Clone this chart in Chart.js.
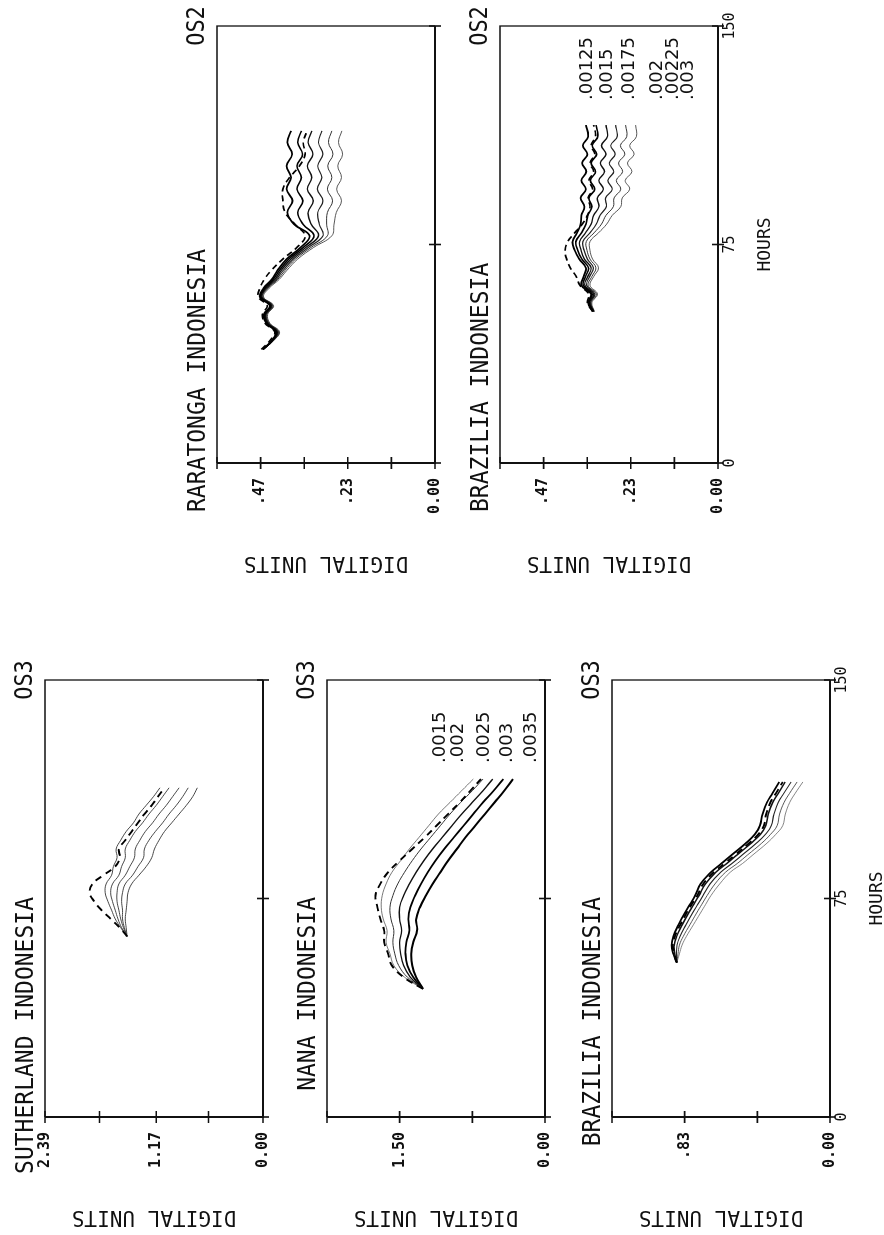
<!DOCTYPE html>
<html>
<head>
<meta charset="utf-8">
<title>Digital units vs hours</title>
<script src="https://cdn.jsdelivr.net/npm/chart.js@4.4.1/dist/chart.umd.min.js"></script>
<style>
  html, body { margin: 0; padding: 0; background: #fff; }
  body { width: 884px; height: 1235px; overflow: hidden; position: relative; }
  /* the whole sheet is plotted landscape and turned a quarter turn */
  #sheet { position: absolute; left: 0; top: 0; width: 1235px; height: 884px;
           transform-origin: 0 0; transform: translateY(1235px) rotate(-90deg); }
  #sheet canvas { position: absolute; }
</style>
</head>
<body>
<div id="sheet"></div>
<script>
// === HOURS AXIS ===
const hourTicks = [0, 75, 150];
const hourLabels = ['0', '75', '150'];

// === VALUE AXIS TICKS ===
const sutTicks = [0, 0.5975, 1.17, 1.7925, 2.39];
const sutTickLabels = ['0.00', '', '1.17', '', '2.39'];
const nanaTicks = [0, 0.75, 1.5, 2.25];
const nanaTickLabels = ['0.00', '', '1.50', ''];
const braz3Ticks = [0, 0.415, 0.83, 1.245];
const braz3TickLabels = ['0.00', '', '.83', ''];
const os2Ticks = [0, 0.1175, 0.235, 0.3525, 0.47, 0.5875];
const os2TickLabels = ['0.00', '', '.23', '', '.47', ''];

// === LEGEND TEXT ===
const os3Legend = ['.0015', '.002', '.0025', '.003', '.0035'];
const os2Legend = ['.00125', '.0015', '.00175', '.002', '.00225', '.003'];

// === SUTHERLAND (OS3) ===
const sutHours = [62, 65, 68, 71, 74, 77, 80, 83, 86, 89, 92, 95, 98, 101, 104, 107, 110, 113];
const sutObs   = [1.49, 1.57, 1.67, 1.77, 1.85, 1.90, 1.87, 1.75, 1.62, 1.57, 1.58, 1.51, 1.44, 1.37, 1.30, 1.22, 1.15, 1.08];
const sut0015  = [1.49, 1.56, 1.62, 1.66, 1.70, 1.73, 1.72, 1.66, 1.64, 1.60, 1.61, 1.56, 1.50, 1.42, 1.36, 1.28, 1.20, 1.13];
const sut002   = [1.49, 1.55, 1.59, 1.62, 1.65, 1.67, 1.65, 1.58, 1.55, 1.51, 1.51, 1.46, 1.40, 1.32, 1.25, 1.17, 1.10, 1.03];
const sut0025  = [1.49, 1.53, 1.56, 1.58, 1.60, 1.60, 1.58, 1.51, 1.46, 1.41, 1.40, 1.35, 1.29, 1.21, 1.14, 1.06, 0.99, 0.92];
const sut003   = [1.49, 1.52, 1.54, 1.54, 1.55, 1.54, 1.51, 1.43, 1.37, 1.31, 1.30, 1.25, 1.18, 1.10, 1.03, 0.95, 0.88, 0.82];
const sut0035  = [1.49, 1.50, 1.51, 1.50, 1.49, 1.48, 1.44, 1.36, 1.28, 1.22, 1.19, 1.14, 1.08, 1.00, 0.92, 0.84, 0.77, 0.72];

// === NANA (OS3) ===
const nanaHours = [44, 48, 52, 56, 60, 64, 68, 72, 76, 80, 84, 88, 92, 96, 100, 104, 108, 112, 116];
const nanaObs   = [1.26, 1.46, 1.58, 1.62, 1.66, 1.66, 1.70, 1.73, 1.75, 1.70, 1.62, 1.50, 1.37, 1.24, 1.12, 1.00, 0.88, 0.77, 0.66];
const nana0015  = [1.26, 1.45, 1.56, 1.60, 1.64, 1.63, 1.67, 1.69, 1.68, 1.64, 1.58, 1.49, 1.40, 1.30, 1.20, 1.10, 0.98, 0.86, 0.74];
const nana002   = [1.26, 1.42, 1.51, 1.55, 1.57, 1.56, 1.59, 1.60, 1.57, 1.52, 1.45, 1.37, 1.28, 1.18, 1.08, 0.98, 0.87, 0.75, 0.64];
const nana0025  = [1.26, 1.39, 1.46, 1.49, 1.50, 1.48, 1.50, 1.50, 1.46, 1.40, 1.33, 1.25, 1.16, 1.06, 0.96, 0.86, 0.75, 0.64, 0.54];
const nana003   = [1.26, 1.36, 1.42, 1.44, 1.43, 1.40, 1.41, 1.39, 1.34, 1.28, 1.21, 1.13, 1.04, 0.94, 0.84, 0.74, 0.64, 0.53, 0.43];
const nana0035  = [1.26, 1.33, 1.37, 1.38, 1.36, 1.32, 1.33, 1.29, 1.23, 1.16, 1.08, 1.00, 0.91, 0.82, 0.72, 0.62, 0.52, 0.42, 0.33];

// === BRAZILIA (OS3) ===
const braz3Hours = [53, 56, 59, 62, 66, 70, 73, 76, 80, 84, 87, 90, 94, 97, 100, 104, 108, 111, 115];
const braz3Obs   = [0.875, 0.890, 0.898, 0.886, 0.855, 0.820, 0.790, 0.758, 0.724, 0.664, 0.602, 0.542, 0.462, 0.410, 0.378, 0.364, 0.340, 0.310, 0.270];
const braz30015  = [0.875, 0.895, 0.905, 0.895, 0.865, 0.830, 0.800, 0.770, 0.740, 0.680, 0.620, 0.560, 0.480, 0.430, 0.400, 0.385, 0.360, 0.330, 0.290];
const braz3002   = [0.875, 0.886, 0.890, 0.876, 0.844, 0.808, 0.778, 0.748, 0.712, 0.652, 0.590, 0.530, 0.450, 0.398, 0.367, 0.353, 0.327, 0.296, 0.256];
const braz30025  = [0.875, 0.877, 0.874, 0.857, 0.822, 0.785, 0.755, 0.725, 0.685, 0.625, 0.560, 0.500, 0.420, 0.369, 0.335, 0.320, 0.295, 0.265, 0.222];
const braz3003   = [0.875, 0.868, 0.860, 0.838, 0.800, 0.762, 0.732, 0.702, 0.657, 0.597, 0.530, 0.470, 0.390, 0.340, 0.302, 0.288, 0.262, 0.232, 0.188];
const braz30035  = [0.875, 0.860, 0.845, 0.820, 0.780, 0.740, 0.710, 0.680, 0.630, 0.570, 0.500, 0.440, 0.360, 0.310, 0.270, 0.255, 0.230, 0.200, 0.155];

// === RARATONGA (OS2) ===
const raraHours  = [39, 42, 45, 48, 51, 54, 57, 60, 63, 66, 70, 74, 78, 82, 86, 90, 94, 98, 102, 106, 110, 114];
const raraObs    = [0.468, 0.445, 0.432, 0.458, 0.465, 0.452, 0.476, 0.472, 0.460, 0.442, 0.410, 0.372, 0.350, 0.378, 0.404, 0.410, 0.410, 0.392, 0.365, 0.350, 0.355, 0.345];
const rara00125  = [0.464, 0.440, 0.429, 0.455, 0.461, 0.445, 0.472, 0.462, 0.440, 0.425, 0.400, 0.362, 0.338, 0.380, 0.398, 0.384, 0.400, 0.388, 0.400, 0.385, 0.398, 0.388];
const rara0015   = [0.464, 0.439, 0.427, 0.453, 0.459, 0.443, 0.470, 0.459, 0.436, 0.420, 0.394, 0.355, 0.326, 0.356, 0.370, 0.356, 0.372, 0.360, 0.372, 0.357, 0.370, 0.360];
const rara00175  = [0.463, 0.438, 0.425, 0.451, 0.457, 0.441, 0.468, 0.456, 0.432, 0.415, 0.388, 0.348, 0.314, 0.334, 0.342, 0.328, 0.344, 0.332, 0.344, 0.329, 0.342, 0.332];
const rara002    = [0.463, 0.437, 0.423, 0.449, 0.455, 0.439, 0.466, 0.453, 0.428, 0.410, 0.382, 0.341, 0.302, 0.312, 0.316, 0.302, 0.317, 0.305, 0.316, 0.302, 0.314, 0.305];
const rara00225  = [0.462, 0.436, 0.421, 0.447, 0.453, 0.437, 0.464, 0.450, 0.424, 0.405, 0.376, 0.334, 0.290, 0.292, 0.290, 0.276, 0.290, 0.278, 0.289, 0.275, 0.287, 0.278];
const rara003    = [0.462, 0.435, 0.419, 0.445, 0.451, 0.435, 0.462, 0.447, 0.420, 0.400, 0.370, 0.327, 0.278, 0.272, 0.266, 0.252, 0.265, 0.252, 0.262, 0.249, 0.260, 0.251];

// === BRAZILIA (OS2) ===
const braz2Hours = [52, 55, 58, 61, 64, 67, 70, 73, 76, 79, 82, 85, 88, 91, 94, 97, 100, 103, 106, 109, 112, 116];
const braz2Obs   = [0.338, 0.352, 0.348, 0.372, 0.382, 0.398, 0.408, 0.412, 0.405, 0.386, 0.366, 0.352, 0.345, 0.350, 0.338, 0.348, 0.335, 0.345, 0.332, 0.342, 0.330, 0.335];
const braz200125 = [0.337, 0.350, 0.342, 0.368, 0.362, 0.356, 0.374, 0.386, 0.392, 0.380, 0.370, 0.368, 0.360, 0.370, 0.356, 0.368, 0.355, 0.366, 0.352, 0.364, 0.350, 0.356];
const braz20015  = [0.336, 0.348, 0.339, 0.363, 0.357, 0.349, 0.367, 0.378, 0.383, 0.368, 0.356, 0.351, 0.340, 0.348, 0.332, 0.344, 0.330, 0.342, 0.327, 0.339, 0.324, 0.329];
const braz200175 = [0.335, 0.346, 0.335, 0.359, 0.351, 0.342, 0.360, 0.369, 0.373, 0.357, 0.342, 0.335, 0.321, 0.325, 0.309, 0.321, 0.306, 0.317, 0.302, 0.314, 0.298, 0.302];
const braz2002   = [0.335, 0.344, 0.332, 0.354, 0.346, 0.336, 0.352, 0.361, 0.364, 0.345, 0.328, 0.318, 0.301, 0.303, 0.285, 0.297, 0.281, 0.293, 0.277, 0.289, 0.272, 0.276];
const braz200225 = [0.334, 0.342, 0.328, 0.350, 0.340, 0.329, 0.345, 0.353, 0.355, 0.334, 0.314, 0.302, 0.282, 0.280, 0.262, 0.274, 0.257, 0.268, 0.251, 0.263, 0.246, 0.249];
const braz2003   = [0.333, 0.340, 0.325, 0.345, 0.335, 0.322, 0.338, 0.345, 0.345, 0.322, 0.300, 0.285, 0.262, 0.258, 0.238, 0.250, 0.232, 0.244, 0.226, 0.238, 0.220, 0.222];

// === STYLES ===
const INK = '#111';
const MONO = 'DejaVu Sans Mono';
const OBS = { width: 1.9, dash: [7, 5], color: '#000' };
const STYLE_THIN = [OBS,
    { width: 0.9, color: '#333' }, { width: 0.9, color: '#333' }, { width: 0.9, color: '#333' },
    { width: 0.9, color: '#333' }, { width: 0.9, color: '#333' }];
const STYLE_NANA = [OBS,
    { width: 0.8, color: '#555' }, { width: 1.0, color: '#333' }, { width: 1.4, color: '#111' },
    { width: 1.8, color: '#000' }, { width: 2.0, color: '#000' }];
const STYLE_BRAZ3 = [OBS,
    { width: 1.8, color: '#000' }, { width: 1.5, color: '#111' }, { width: 1.1, color: '#222' },
    { width: 0.9, color: '#444' }, { width: 0.8, color: '#666' }];
const STYLE_OS2 = [{ width: 1.7, dash: [6, 4], color: '#000' },
    { width: 1.8, color: '#000' }, { width: 1.6, color: '#000' }, { width: 1.4, color: '#111' },
    { width: 1.2, color: '#222' }, { width: 1.0, color: '#333' }, { width: 0.9, color: '#444' }];

// chart area inside every canvas: 437 x 218, left 116, top 50
const CANVAS_W = 583, CANVAS_H = 328;

const panels = [
    { title: 'SUTHERLAND INDONESIA', tag: 'OS3', align: 'right', left: 2, top: -5,
      yMax: 2.39, yTicks: sutTicks, yLabels: sutTickLabels, hours: sutHours,
      series: [sutObs, sut0015, sut002, sut0025, sut003, sut0035], styles: STYLE_THIN, showHours: false },
    { title: 'NANA INDONESIA', tag: 'OS3', align: 'right', left: 2, top: 277,
      yMax: 2.25, yTicks: nanaTicks, yLabels: nanaTickLabels, hours: nanaHours,
      series: [nanaObs, nana0015, nana002, nana0025, nana003, nana0035], styles: STYLE_NANA, showHours: false,
      legend: { items: os3Legend, x: 354, ys: [113, 131, 157, 180, 204] } },
    { title: 'BRAZILIA INDONESIA', tag: 'OS3', align: 'right', left: 2, top: 562,
      yMax: 1.245, yTicks: braz3Ticks, yLabels: braz3TickLabels, hours: braz3Hours,
      series: [braz3Obs, braz30015, braz3002, braz30025, braz3003, braz30035], styles: STYLE_BRAZ3, showHours: true },
    { title: 'RARATONGA INDONESIA', tag: 'OS2', align: 'left', left: 656, top: 167,
      yMax: 0.5875, yTicks: os2Ticks, yLabels: os2TickLabels, hours: raraHours,
      series: [raraObs, rara00125, rara0015, rara00175, rara002, rara00225, rara003], styles: STYLE_OS2, showHours: false },
    { title: 'BRAZILIA INDONESIA', tag: 'OS2', align: 'left', left: 656, top: 450,
      yMax: 0.5875, yTicks: os2Ticks, yLabels: os2TickLabels, hours: braz2Hours,
      series: [braz2Obs, braz200125, braz20015, braz200175, braz2002, braz200225, braz2003], styles: STYLE_OS2, showHours: true,
      legend: { items: os2Legend, x: 363, ys: [87, 107, 129, 157, 173, 188] } }
];

// box frame with tick marks crossing the axes
const frameTicks = {
    id: 'frameTicks',
    afterDraw(chart) {
        const { ctx, chartArea: a, scales: { x, y } } = chart;
        ctx.save();
        ctx.strokeStyle = INK;
        ctx.lineWidth = 2;
        ctx.beginPath();
        ctx.moveTo(a.left, a.top);
        ctx.lineTo(a.left, a.bottom);
        ctx.lineTo(a.right, a.bottom);
        ctx.stroke();
        ctx.lineWidth = 1.3;
        ctx.beginPath();
        ctx.moveTo(a.left, a.top);
        ctx.lineTo(a.right, a.top);
        ctx.lineTo(a.right, a.bottom);
        ctx.stroke();
        ctx.lineWidth = 1.6;
        ctx.beginPath();
        y.ticks.forEach(t => {
            const p = y.getPixelForValue(t.value);
            ctx.moveTo(a.left - 6, p);
            ctx.lineTo(a.left + 6, p);
        });
        x.ticks.forEach(t => {
            const p = x.getPixelForValue(t.value);
            ctx.moveTo(p, a.bottom - 6);
            ctx.lineTo(p, a.bottom + 6);
        });
        ctx.stroke();
        ctx.restore();
    }
};

// panel title, OS tag and the column of coefficient labels
const panelDecor = {
    id: 'panelDecor',
    afterDraw(chart, args, opts) {
        const { ctx, chartArea: a } = chart;
        ctx.save();
        ctx.fillStyle = INK;
        const tall = (text, x, y, align) => {
            ctx.save();
            ctx.translate(x, y);
            ctx.scale(1, 1.1);
            ctx.textAlign = align;
            ctx.textBaseline = 'alphabetic';
            ctx.fillText(text, 0, 0);
            ctx.restore();
        };
        ctx.font = `23px "${MONO}"`;
        if (opts.align === 'right') {
            tall(opts.title, a.left + 220, a.top - 12, 'right');
        } else {
            tall(opts.title, a.left - 49, a.top - 12, 'left');
        }
        ctx.font = `22px "${MONO}"`;
        tall(opts.tag, a.right, a.top - 13, 'center');

        if (opts.legend) {
            ctx.font = '18px "DejaVu Sans"';
            ctx.textAlign = 'left';
            ctx.textBaseline = 'middle';
            opts.legend.items.forEach((t, i) => {
                ctx.fillText(t, a.left + opts.legend.x, a.top + opts.legend.ys[i]);
            });
        }
        ctx.restore();
    }
};

Chart.defaults.color = INK;
const sheet = document.getElementById('sheet');

panels.forEach(p => {
    const canvas = document.createElement('canvas');
    canvas.width = CANVAS_W;
    canvas.height = CANVAS_H;
    canvas.style.left = p.left + 'px';
    canvas.style.top = p.top + 'px';
    sheet.appendChild(canvas);

    const datasets = p.series.map((vals, i) => ({
        data: p.hours.map((h, k) => ({ x: h, y: vals[k] })),
        borderColor: p.styles[i].color,
        borderWidth: p.styles[i].width,
        borderDash: p.styles[i].dash || [],
        pointRadius: 0,
        tension: 0.4,
        fill: false
    }));

    new Chart(canvas, {
        type: 'line',
        data: { datasets },
        options: {
            responsive: false,
            animation: false,
            events: [],
            layout: { padding: { top: 50, right: 30, left: 0, bottom: 0 } },
            plugins: {
                legend: { display: false },
                tooltip: { enabled: false },
                panelDecor: { title: p.title, tag: p.tag, align: p.align, legend: p.legend }
            },
            scales: {
                x: {
                    type: 'linear', position: 'bottom', min: 0, max: 150,
                    afterBuildTicks: s => { s.ticks = hourTicks.map(v => ({ value: v })); },
                    afterFit: s => { s.height = 60; },
                    grid: { display: false, drawTicks: false },
                    border: { display: false },
                    ticks: {
                        display: p.showHours, autoSkip: false, maxRotation: 0, padding: 3,
                        font: { family: MONO, size: 15 },
                        callback: (v, i) => hourLabels[i]
                    },
                    title: {
                        display: p.showHours, text: 'HOURS',
                        font: { family: MONO, size: 18 },
                        padding: { top: 0, bottom: 2 }
                    }
                },
                y: {
                    min: 0, max: p.yMax,
                    afterBuildTicks: s => { s.ticks = p.yTicks.map(v => ({ value: v })); },
                    afterFit: s => { s.width = 116; },
                    grid: { display: false, drawTicks: false },
                    border: { display: false },
                    ticks: {
                        autoSkip: false, padding: 15,
                        font: { family: MONO, size: 15, weight: 'bold' },
                        callback: (v, i) => p.yLabels[i]
                    },
                    title: {
                        display: true, text: 'DIGITAL UNITS',
                        font: { family: MONO, size: 21 },
                        padding: { top: 4, bottom: 0 }
                    }
                }
            }
        },
        plugins: [frameTicks, panelDecor]
    });
});
</script>
</body>
</html>
